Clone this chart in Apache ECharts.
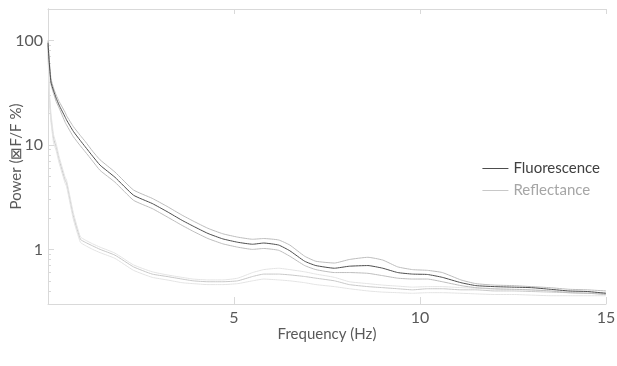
<!DOCTYPE html>
<html>
<head>
<meta charset="utf-8">
<script src="https://cdn.jsdelivr.net/npm/echarts@6/dist/echarts.min.js"></script>
<style>
  html, body { margin: 0; padding: 0; background: #fff; }
  #chart { width: 617px; height: 366px; }
</style>
</head>
<body>
<div id="chart"></div>
<script>
// 频率 (Hz)
const freq = [0, 0.03, 0.08, 0.15, 0.22, 0.3, 0.46, 0.5, 0.68, 0.87, 1.0, 1.2, 1.4, 1.8, 2.3, 2.8, 3.2, 3.6, 3.9, 4.3, 4.7, 5.1, 5.5, 5.8, 6.2, 6.5, 6.9, 7.2, 7.7, 8.1, 8.6, 9.0, 9.4, 9.8, 10.2, 10.6, 11.1, 11.5, 12, 12.5, 13, 13.5, 14, 14.5, 15]
// Fluorescence 均值 / 上下界
const fluoMean = [95, 64, 40, 33, 28, 24, 18.5, 17.3, 13.5, 11, 9.6, 7.8, 6.4, 4.9, 3.3, 2.75, 2.3, 1.9, 1.67, 1.42, 1.26, 1.17, 1.12, 1.15, 1.10, 0.97, 0.77, 0.70, 0.66, 0.69, 0.70, 0.66, 0.60, 0.58, 0.575, 0.54, 0.48, 0.45, 0.44, 0.435, 0.43, 0.415, 0.40, 0.395, 0.38]
const fluoUpper = [100, 68, 43, 35, 30, 26, 20.5, 19, 15, 12.3, 10.8, 8.7, 7.2, 5.5, 3.7, 3.08, 2.58, 2.13, 1.87, 1.59, 1.41, 1.31, 1.25, 1.27, 1.23, 1.10, 0.86, 0.77, 0.74, 0.80, 0.84, 0.79, 0.68, 0.64, 0.63, 0.60, 0.51, 0.47, 0.455, 0.45, 0.44, 0.43, 0.415, 0.41, 0.40]
const fluoLower = [90, 60, 38, 31, 26, 22.5, 16.5, 15.5, 12, 9.8, 8.6, 7.0, 5.7, 4.4, 2.95, 2.46, 2.05, 1.7, 1.49, 1.27, 1.13, 1.05, 1.0, 1.02, 0.98, 0.86, 0.70, 0.64, 0.60, 0.60, 0.59, 0.56, 0.53, 0.52, 0.52, 0.49, 0.45, 0.43, 0.42, 0.415, 0.41, 0.40, 0.385, 0.38, 0.37]
// Reflectance 均值 / 上下界
const reflMean = [90, 32, 18, 11.5, 9.5, 7.2, 4.6, 4.3, 2.1, 1.25, 1.17, 1.08, 1.0, 0.88, 0.68, 0.58, 0.55, 0.52, 0.50, 0.49, 0.49, 0.50, 0.55, 0.58, 0.58, 0.57, 0.55, 0.53, 0.50, 0.46, 0.44, 0.43, 0.42, 0.41, 0.42, 0.42, 0.41, 0.41, 0.40, 0.40, 0.395, 0.39, 0.385, 0.38, 0.375]
const reflUpper = [95, 35, 20, 12.5, 10.3, 7.7, 4.9, 4.6, 2.25, 1.32, 1.23, 1.13, 1.05, 0.92, 0.71, 0.61, 0.57, 0.54, 0.52, 0.51, 0.51, 0.53, 0.60, 0.64, 0.66, 0.64, 0.61, 0.58, 0.54, 0.49, 0.47, 0.455, 0.445, 0.435, 0.44, 0.44, 0.43, 0.425, 0.415, 0.41, 0.405, 0.40, 0.395, 0.39, 0.385]
const reflLower = [85, 29, 16.5, 10.5, 8.8, 6.7, 4.3, 4.0, 1.95, 1.17, 1.09, 1.0, 0.93, 0.82, 0.63, 0.54, 0.51, 0.48, 0.47, 0.46, 0.46, 0.47, 0.50, 0.52, 0.51, 0.50, 0.48, 0.46, 0.44, 0.42, 0.40, 0.39, 0.385, 0.38, 0.385, 0.385, 0.38, 0.375, 0.37, 0.37, 0.365, 0.36, 0.36, 0.36, 0.36]
// 坐标轴刻度
const xTicks = [5, 10, 15]
const yTicks = [1, 10, 100]

function pairs(ys) {
  return freq.map((f, i) => [f, ys[i]])
}

const font = 'Lato, "Open Sans", sans-serif'
const axisColor = '#d9d9d9'
const textColor = '#595959'

function line(name, ys, color) {
  return {
    name: name,
    type: 'line',
    symbol: 'none',
    smooth: 0.15,
    lineStyle: { width: 1, color: color },
    itemStyle: { color: color },
    data: pairs(ys),
  }
}

const option = {
  animation: false,
  textStyle: { fontFamily: font },
  grid: { left: 48, right: 11, top: 9, bottom: 62, outerBoundsMode: 'none' },
  legend: {
    orient: 'vertical',
    right: 12,
    top: 156,
    itemWidth: 26,
    itemHeight: 1,
    itemGap: 7,
    icon: 'rect',
    data: [
      { name: 'Fluorescence', textStyle: { color: '#404040' } },
      { name: 'Reflectance', textStyle: { color: '#a6a6a6' } },
    ],
    textStyle: { fontSize: 15, fontFamily: font },
  },
  xAxis: [
    {
      type: 'value',
      min: 0,
      max: 15,
      interval: 5,
      name: 'Frequency (Hz)',
      nameLocation: 'middle',
      nameGap: 23,
      nameMoveOverlap: false,
      nameTextStyle: { fontSize: 15, color: textColor },
      axisLine: { show: true, lineStyle: { color: axisColor } },
      axisTick: { show: true, inside: true, length: 7, lineStyle: { color: axisColor } },
      axisLabel: {
        fontSize: 16,
        color: textColor,
        margin: 6,
        formatter: (v) => (xTicks.includes(v) ? String(v) : ''),
      },
      splitLine: { show: false },
    },
    {
      type: 'value',
      position: 'top',
      min: 0,
      max: 15,
      interval: 5,
      axisLine: { show: true, lineStyle: { color: axisColor } },
      axisTick: { show: true, inside: true, length: 5, lineStyle: { color: axisColor } },
      axisLabel: { show: false },
      splitLine: { show: false },
    },
  ],
  yAxis: [
    {
      type: 'log',
      logBase: 10,
      min: 0.3,
      max: 200,
      name: 'Power (⊠F/F %)',
      nameLocation: 'middle',
      nameGap: 24,
      nameMoveOverlap: false,
      nameTextStyle: { fontSize: 15, color: textColor },
      axisLine: { show: true, lineStyle: { color: axisColor } },
      axisTick: { show: true, inside: true, length: 6, lineStyle: { color: axisColor } },
      minorTick: { show: true, splitNumber: 9, length: 3, lineStyle: { color: axisColor } },
      axisLabel: {
        fontSize: 16,
        color: textColor,
        margin: 5,
        formatter: (v) => (yTicks.some((t) => Math.abs(t - v) < 1e-6) ? String(Math.round(v)) : ''),
      },
      splitLine: { show: false },
    },
    {
      type: 'log',
      logBase: 10,
      position: 'right',
      min: 0.3,
      max: 200,
      axisLine: { show: true, lineStyle: { color: axisColor } },
      axisTick: { show: false },
      axisLabel: { show: false },
      splitLine: { show: false },
    },
  ],
  series: [
    line('Reflectance', reflMean, '#c8c8c8'),
    line('Reflectance band upper', reflUpper, '#e4e4e4'),
    line('Reflectance band lower', reflLower, '#e4e4e4'),
    line('Fluorescence band upper', fluoUpper, '#bdbdbd'),
    line('Fluorescence band lower', fluoLower, '#bdbdbd'),
    line('Fluorescence', fluoMean, '#4d4d4d'),
  ],
}

echarts.init(document.getElementById('chart')).setOption(option)
</script>
</body>
</html>
